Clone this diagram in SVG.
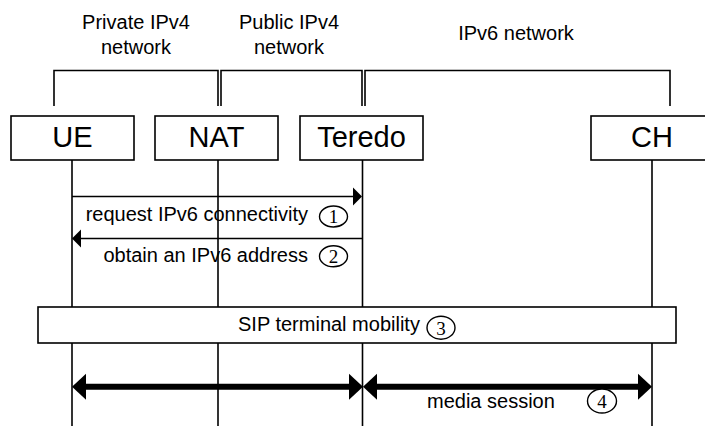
<svg xmlns="http://www.w3.org/2000/svg" width="705" height="426" viewBox="0 0 705 426">
  <style>
    .lbl { font-family: "Liberation Sans", Arial, sans-serif; font-size: 20px; fill: #000; }
    .name { font-family: "Liberation Sans", Arial, sans-serif; font-size: 29px; fill: #000; text-anchor: middle; }
    .num { font-family: "Liberation Serif", "Times New Roman", serif; font-size: 19px; fill: #000; text-anchor: middle; }
    .box { fill: #fff; stroke: #000; stroke-width: 1.6; }
    .life { stroke: #000; stroke-width: 1.6; fill: none; }
    .brk { stroke: #000; stroke-width: 1.6; fill: none; }
    .msg { stroke: #000; stroke-width: 1.6; fill: none; marker-end: url(#thinHead); }
    .media { stroke: #000; stroke-width: 6; fill: none; marker-start: url(#boldHead); marker-end: url(#boldHead); }
    .step { fill: #fff; stroke: #000; stroke-width: 1.4; }
  </style>
  <defs>
    <marker id="thinHead" markerUnits="userSpaceOnUse" markerWidth="10" markerHeight="18" refX="0" refY="9" orient="auto-start-reverse" overflow="visible">
      <path d="M0,0 L9,9 L0,18 Z" fill="#000"/>
    </marker>
    <marker id="boldHead" markerUnits="userSpaceOnUse" markerWidth="14" markerHeight="26" refX="0" refY="13" orient="auto-start-reverse" overflow="visible">
      <path d="M0,0 L14,13 L0,26 Z" fill="#000"/>
    </marker>
  </defs>

  <rect width="705" height="426" fill="#fff"/>

  <!-- network domain labels -->
  <g id="domains">
    <text class="lbl" x="136" y="28.5" text-anchor="middle">Private IPv4</text>
    <text class="lbl" x="136" y="53.5" text-anchor="middle">network</text>
    <text class="lbl" x="289" y="28.5" text-anchor="middle">Public IPv4</text>
    <text class="lbl" x="289" y="53.5" text-anchor="middle">network</text>
    <text class="lbl" x="516" y="40" text-anchor="middle">IPv6 network</text>
    <path class="brk" d="M54,106 V70.5 H218 V106"/>
    <path class="brk" d="M221,106 V70.5 H362 V106"/>
    <path class="brk" d="M365,106 V70.5 H670 V106"/>
  </g>

  <!-- lifelines -->
  <g id="lifelines">
    <line class="life" x1="72" y1="160" x2="72" y2="426"/>
    <line class="life" x1="218" y1="160" x2="218" y2="426"/>
    <line class="life" x1="362.5" y1="160" x2="362.5" y2="426"/>
    <line class="life" x1="652" y1="160" x2="652" y2="426"/>
  </g>

  <g id="ue">
    <rect class="box" x="11" y="116" width="123" height="44"/>
    <text class="name" x="72.5" y="147">UE</text>
  </g>
  <g id="nat">
    <rect class="box" x="155" y="116" width="123" height="44"/>
    <text class="name" x="216.5" y="147">NAT</text>
  </g>
  <g id="teredo">
    <rect class="box" x="300" y="116" width="123" height="44"/>
    <text class="name" x="361.5" y="147">Teredo</text>
  </g>
  <g id="ch">
    <rect class="box" x="591" y="116" width="123" height="44"/>
    <text class="name" x="652" y="147">CH</text>
  </g>

  <!-- messages -->
  <g id="connectors">
    <line class="msg" x1="72" y1="196.5" x2="353" y2="196.5"/>
    <line class="msg" x1="362.5" y1="238.5" x2="81" y2="238.5"/>
    <line class="media" x1="86" y1="386.7" x2="349" y2="386.7"/>
    <line class="media" x1="377" y1="386.7" x2="638" y2="386.7"/>
  </g>

  <g id="step1">
    <text class="lbl" x="308" y="220.5" text-anchor="end">request IPv6 connectivity</text>
    <ellipse class="step" cx="333.5" cy="216.5" rx="14" ry="10.5"/>
    <text class="num" x="333.5" y="223">1</text>
  </g>
  <g id="step2">
    <text class="lbl" x="308" y="261.5" text-anchor="end">obtain an IPv6 address</text>
    <ellipse class="step" cx="333.5" cy="256.3" rx="14" ry="10.5"/>
    <text class="num" x="333.5" y="263">2</text>
  </g>

  <g id="sip">
    <rect class="box" x="38" y="307" width="638" height="36"/>
    <text class="lbl" x="238" y="330.7">SIP terminal mobility</text>
    <ellipse class="step" cx="441" cy="327.7" rx="14" ry="11.5"/>
    <text class="num" x="441" y="334.5">3</text>
  </g>

  <g id="media">
    <text class="lbl" x="427" y="408.3">media session</text>
    <ellipse class="step" cx="602" cy="401" rx="14.5" ry="12"/>
    <text class="num" x="602" y="408">4</text>
  </g>
</svg>
